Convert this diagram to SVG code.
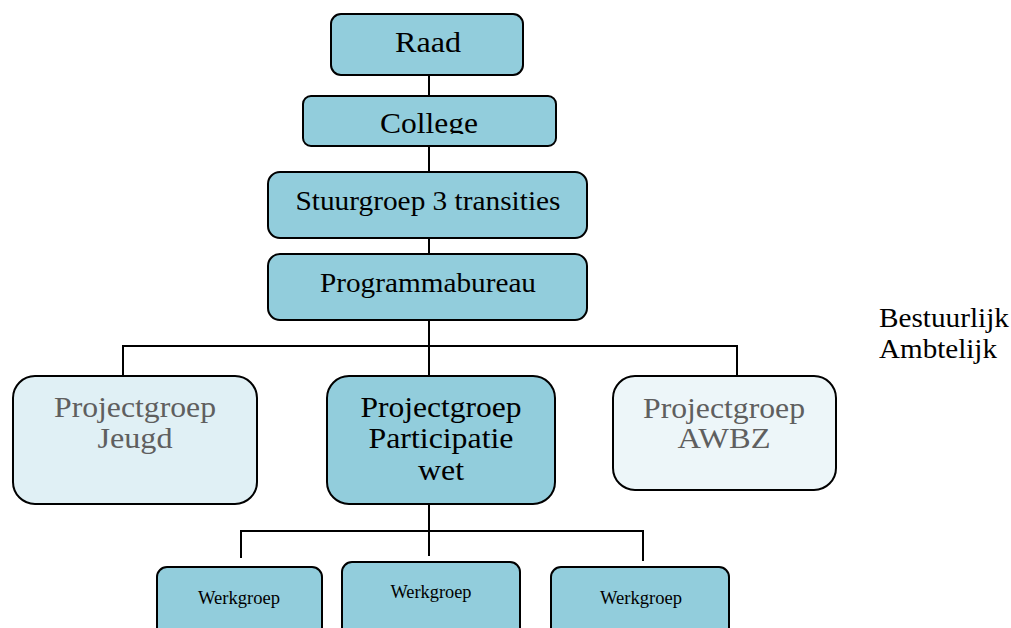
<svg xmlns="http://www.w3.org/2000/svg" width="1011" height="628" viewBox="0 0 1011 628">
<style>
.box{fill:#92CDDC;stroke:#000;stroke-width:2}
.light{fill:#E0F0F5;stroke:#000;stroke-width:2}
.lighter{fill:#EDF6F9;stroke:#000;stroke-width:2}
.t{font-family:"Liberation Serif","Times New Roman",serif;fill:#000;text-anchor:middle}
.s{text-anchor:start}
.g{fill:#5F5F5F}
.c{fill:none;stroke:#000;stroke-width:2}
</style>
<defs>
<clipPath id="clipCollege"><rect x="303" y="96" width="253" height="38"/></clipPath>
</defs>
<rect width="1011" height="628" fill="#fff"/>
<g id="connectors">
<path class="c" d="M429 75V96M429 146V172M429 238V254M429 320V376M123 376V346H737V376M429 504V556M241 558V531H643V561"/>
</g>
<g id="raad">
<rect class="box" x="331" y="14" width="192" height="61" rx="10"/>
<text class="t" x="428" y="52" font-size="30" textLength="66" lengthAdjust="spacingAndGlyphs">Raad</text>
</g>
<g id="college">
<rect class="box" x="303" y="96" width="253" height="50" rx="8"/>
<text class="t" x="429" y="133" font-size="30" textLength="98" lengthAdjust="spacingAndGlyphs" clip-path="url(#clipCollege)">College</text>
</g>
<g id="stuurgroep">
<rect class="box" x="268" y="172" width="319" height="66" rx="12"/>
<text class="t" x="428" y="210" font-size="28" textLength="265" lengthAdjust="spacingAndGlyphs">Stuurgroep 3 transities</text>
</g>
<g id="programmabureau">
<rect class="box" x="268" y="254" width="319" height="66" rx="12"/>
<text class="t" x="428" y="292" font-size="28" textLength="216" lengthAdjust="spacingAndGlyphs">Programmabureau</text>
</g>
<g id="pg-jeugd">
<rect class="light" x="13" y="376" width="244" height="128" rx="22"/>
<text class="t g" x="135" y="417" font-size="30" textLength="162" lengthAdjust="spacingAndGlyphs">Projectgroep</text>
<text class="t g" x="135" y="448" font-size="30" textLength="75" lengthAdjust="spacingAndGlyphs">Jeugd</text>
</g>
<g id="pg-participatie">
<rect class="box" x="327" y="376" width="228" height="128" rx="22"/>
<text class="t" x="441" y="417" font-size="30" textLength="161" lengthAdjust="spacingAndGlyphs">Projectgroep</text>
<text class="t" x="441" y="448" font-size="30" textLength="145" lengthAdjust="spacingAndGlyphs">Participatie</text>
<text class="t" x="441" y="480" font-size="30" textLength="46" lengthAdjust="spacingAndGlyphs">wet</text>
</g>
<g id="pg-awbz">
<rect class="lighter" x="613" y="376" width="223" height="114" rx="22"/>
<text class="t g" x="724" y="418" font-size="30" textLength="162" lengthAdjust="spacingAndGlyphs">Projectgroep</text>
<text class="t g" x="724" y="448" font-size="30" textLength="93" lengthAdjust="spacingAndGlyphs">AWBZ</text>
</g>
<g id="legend">
<text class="t s" x="879" y="327" font-size="28" textLength="130" lengthAdjust="spacingAndGlyphs">Bestuurlijk</text>
<text class="t s" x="879" y="358" font-size="28" textLength="118" lengthAdjust="spacingAndGlyphs">Ambtelijk</text>
</g>
<g id="wg1">
<rect class="box" x="157" y="567" width="165" height="80" rx="10"/>
<text class="t" x="239" y="604" font-size="18" textLength="82" lengthAdjust="spacingAndGlyphs">Werkgroep</text>
</g>
<g id="wg2">
<rect class="box" x="342" y="562" width="178" height="85" rx="10"/>
<text class="t" x="431" y="598" font-size="18" textLength="81" lengthAdjust="spacingAndGlyphs">Werkgroep</text>
</g>
<g id="wg3">
<rect class="box" x="551" y="567" width="178" height="80" rx="10"/>
<text class="t" x="641" y="604" font-size="18" textLength="82" lengthAdjust="spacingAndGlyphs">Werkgroep</text>
</g>
</svg>
